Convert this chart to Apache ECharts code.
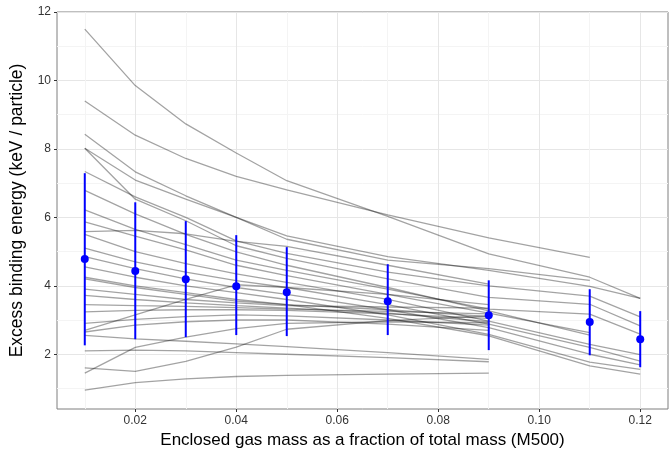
<!DOCTYPE html>
<html>
<head>
<meta charset="utf-8">
<script src="https://cdn.jsdelivr.net/npm/echarts@6/dist/echarts.min.js"></script>
<style>html,body{margin:0;padding:0;background:#fff}#c{width:671px;height:454px}</style>
</head>
<body>
<div id="c"></div>
<script>
// Enclosed gas mass fraction sample points
const gasFraction = [0.01, 0.02, 0.03, 0.04, 0.05, 0.07, 0.09, 0.11, 0.12];

// Individual cluster profiles (excess binding energy, keV / particle)
const clusterProfiles = [
  [11.5, 9.85, 8.73, 7.88, 7.07, 6.03, 4.93, 4.25, 3.63],
  [9.4, 8.4, 7.72, 7.2, 6.8, 6.07, 5.4, 4.83],
  [8.43, 7.33, 6.63, 6.0, 5.46, 4.85, 4.45, 3.98, 3.63],
  [8.02, 7.09, 6.53, 6.0, 5.36, 4.75, 4.5, 4.16],
  [8.02, 6.53, 5.9, 5.17, 4.8, 4.2, 3.66, 3.46, 2.83],
  [7.34, 6.6, 6.0, 5.31, 4.95, 4.4, 4.0, 3.7, 3.09],
  [6.79, 6.1, 5.5, 4.99, 4.6, 3.95, 3.27, 2.56],
  [6.22, 5.65, 5.2, 4.75, 4.45, 3.9, 3.32, 3.17, 2.59],
  [5.87, 5.45, 5.05, 4.6, 4.3, 3.75, 3.2, 2.63],
  [5.58, 5.62, 5.52, 5.3, 5.15, 4.6, 4.05],
  [5.5, 5.0, 4.65, 4.35, 4.1, 3.6, 2.97, 2.29, 1.99],
  [5.1, 4.7, 4.4, 4.15, 3.95, 3.45, 2.88, 2.2, 1.80],
  [4.85, 4.5, 4.2, 3.95, 3.75, 3.3, 2.78, 2.0, 1.69],
  [4.55, 4.25, 4.0, 3.8, 3.6, 3.15, 2.58, 1.77, 1.56],
  [4.25, 4.0, 3.8, 3.6, 3.45, 3.05, 2.54, 1.66, 1.42],
  [4.2, 3.95, 3.75, 3.55, 3.45, 3.3, 3.1],
  [3.9, 3.75, 3.6, 3.5, 3.42, 3.38, 3.35],
  [3.72, 3.6, 3.5, 3.42, 3.35, 3.2, 2.95],
  [3.45, 3.42, 3.4, 3.36, 3.32, 3.25, 3.18],
  [3.24, 3.28, 3.3, 3.3, 3.28, 3.18, 3.05],
  [2.9, 3.02, 3.1, 3.15, 3.12, 3.0, 2.85],
  [2.7, 3.15, 3.6, 4.03, 3.95, 3.75, 3.45],
  [2.65, 2.85, 2.95, 3.0, 3.0, 2.88, 2.7],
  [2.55, 2.45, 2.38, 2.3, 2.22, 2.05, 1.85],
  [2.1, 2.12, 2.1, 2.05, 2.0, 1.9, 1.78],
  [1.6, 1.5, 1.79, 2.21, 2.73, 2.98, 3.12],
  [1.45, 2.2, 2.5, 2.75, 2.9, 2.95, 2.92],
  [0.95, 1.17, 1.28, 1.35, 1.38, 1.42, 1.45]
];

// Sample mean and spread
const meanEnergy = [4.78, 4.43, 4.19, 3.99, 3.81, 3.55, 3.14, 2.94, 2.44];
const lowerEnergy = [2.26, 2.44, 2.50, 2.56, 2.53, 2.56, 2.12, 1.97, 1.62];
const upperEnergy = [7.29, 6.44, 5.89, 5.48, 5.13, 4.63, 4.16, 3.90, 3.26];

const xTickLabels = ['0.02', '0.04', '0.06', '0.08', '0.10', '0.12'];
const yTickLabels = ['2', '4', '6', '8', '10', '12'];
const xTickValues = xTickLabels.map(parseFloat);
const yTickValues = yTickLabels.map(parseFloat);

const chart = echarts.init(document.getElementById('c'), null, {renderer: 'canvas'});

const MAJOR = '#e6e6e6', MINOR = '#f4f4f4', NONE = 'rgba(0,0,0,0)';
// x: min 0.0045, interval 0.0005 -> 0.01 at idx 11, 0.02 at idx 31; cycle 40
const xColors = [];
for (let i = 0; i < 40; i++) xColors.push(i === 11 ? MINOR : (i === 31 ? MAJOR : NONE));
// y: min 0.4, interval 0.2 -> 1.0 at idx 3, 2.0 at idx 8; cycle 10
const yColors = [];
for (let i = 0; i < 10; i++) yColors.push(i === 3 ? MINOR : (i === 8 ? MAJOR : NONE));

const series = [];
clusterProfiles.forEach(function (prof) {
  series.push({
    type: 'line',
    data: prof.map(function (v, i) { return [gasFraction[i], v]; }),
    symbol: 'none',
    silent: true,
    animation: false,
    lineStyle: {color: 'rgba(0,0,0,0.36)', width: 1.3},
    z: 2
  });
});
series.push({
  type: 'custom',
  animation: false,
  z: 5,
  data: gasFraction.map(function (x, i) { return [x, lowerEnergy[i], upperEnergy[i]]; }),
  renderItem: function (params, api) {
    const p1 = api.coord([api.value(0), api.value(1)]);
    const p2 = api.coord([api.value(0), api.value(2)]);
    return {type: 'line', shape: {x1: p1[0], y1: p1[1], x2: p2[0], y2: p2[1]},
            style: {stroke: '#0000ff', lineWidth: 2}};
  }
});
series.push({
  type: 'scatter',
  animation: false,
  z: 6,
  symbolSize: 8,
  itemStyle: {color: '#0000ff', opacity: 1},
  data: gasFraction.map(function (x, i) { return [x, meanEnergy[i]]; })
});

function near(v, list) {
  for (let i = 0; i < list.length; i++) if (Math.abs(v - parseFloat(list[i])) < 1e-7) return list[i];
  return '';
}

const FONT = 'Liberation Sans, Arial, sans-serif';
chart.setOption({
  animation: false,
  backgroundColor: '#ffffff',
  textStyle: {fontFamily: FONT},
  grid: {left: 56, right: 1, top: 12, bottom: 45, show: true, borderColor: '#7f7f7f', borderWidth: 1, backgroundColor: 'transparent'},
  xAxis: [{
    type: 'value', min: 0.0045, max: 0.1255, interval: 0.0005, position: 'bottom',
    name: 'Enclosed gas mass as a fraction of total mass (M500)',
    nameLocation: 'middle', nameGap: 23,
    nameTextStyle: {fontSize: 17, color: '#000', fontFamily: FONT},
    axisLine: {show: false},
    axisTick: {show: false},
    axisLabel: {color: '#333', fontSize: 12, margin: 6, formatter: function (v) { return near(v, xTickLabels); }},
    splitLine: {show: true, lineStyle: {color: xColors, width: 1}}
  }, {
    type: 'value', min: 0.0045, max: 0.1255, position: 'bottom', offset: 0,
    axisLine: {show: false},
    axisTick: {show: true, customValues: xTickValues, length: 3, lineStyle: {color: '#333', width: 1}},
    axisLabel: {show: false},
    splitLine: {show: false}
  }],
  yAxis: [{
    type: 'value', min: 0.4, max: 12, interval: 0.2, position: 'left',
    name: 'Excess binding energy (keV / particle)',
    nameLocation: 'middle', nameGap: 31,
    nameTextStyle: {fontSize: 17.5, color: '#000', fontFamily: FONT},
    axisLine: {show: false},
    axisTick: {show: false},
    axisLabel: {color: '#333', fontSize: 12, margin: 6, formatter: function (v) { return near(v, yTickLabels); }},
    splitLine: {show: true, lineStyle: {color: yColors, width: 1}}
  }, {
    type: 'value', min: 0.4, max: 12, position: 'left', offset: 0,
    axisLine: {show: false},
    axisTick: {show: true, customValues: yTickValues, length: 3, lineStyle: {color: '#333', width: 1}},
    axisLabel: {show: false},
    splitLine: {show: false}
  }],
  series: series
});
</script>
</body>
</html>
